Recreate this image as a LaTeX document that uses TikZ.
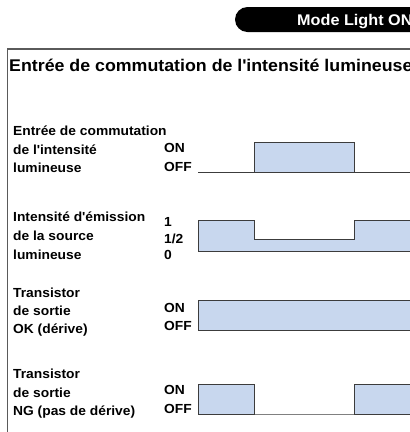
\documentclass[tikz,border=0pt]{standalone}
\usepackage{fontspec}
\setmainfont{Liberation Sans}[FakeStretch=1.05]
\definecolor{pulsefill}{HTML}{C8D7EE}
\definecolor{pulseline}{HTML}{3C3C3C}
\definecolor{framegray}{HTML}{5A5A5A}
\tikzset{
  lab/.style={anchor=base west,inner sep=0pt,font=\fontsize{13.2}{15}\selectfont\bfseries},
  pulse/.style={fill=pulsefill,draw=pulseline,line width=0.9pt},
  baseline/.style={draw=pulseline,line width=0.9pt}
}
\begin{document}
\begin{tikzpicture}[x=1bp,y=-1bp]
\useasboundingbox (0,0) rectangle (410,432);
\clip (0,0) rectangle (410,432);

\fill[black,rounded corners=12.5bp] (235,7) rectangle (440,32);
\node[anchor=base west,inner sep=0pt,text=white,font=\fontsize{15.5}{17}\selectfont\bfseries] (mode) at (297,25) {Mode Light ON};

\draw[framegray,line width=2pt] (7.5,440) -- (7.5,49) -- (440,49);
\node[anchor=base west,inner sep=0pt,font=\fontsize{17}{19}\selectfont\bfseries] (title) at (9,71) {Entrée de commutation de l\textquotesingle intensité lumineuse};

% entree
\node[lab] (in1) at (13,135.5) {Entrée de commutation};
\node[lab] (in2) at (13,154) {de l\textquotesingle intensité};
\node[lab] (in3) at (13,172.5) {lumineuse};
\node[lab] (inon) at (164,152) {ON};
\node[lab] (inoff) at (164,171) {OFF};
\filldraw[pulse] (254,172.5) rectangle (354,142);
\draw[baseline] (198,172.5) -- (415,172.5);

% intensite
\node[lab] (em1) at (13,221.5) {Intensité d\textquotesingle émission};
\node[lab] (em2) at (13,240.5) {de la source};
\node[lab] (em3) at (13,259) {lumineuse};
\node[lab] (emhi) at (164,226) {1};
\node[lab] (emmid) at (164,243) {1/2};
\node[lab] (emlo) at (164,259.5) {0};
\filldraw[pulse] (198,251) -- (198,220.7) -- (254,220.7) -- (254,239) -- (354,239) -- (354,220.7) -- (415,220.7) -- (415,251) -- cycle;

% sortie OK
\node[lab] (ok1) at (13,297) {Transistor};
\node[lab] (ok2) at (13,315) {de sortie};
\node[lab] (ok3) at (13,333.5) {OK (dérive)};
\node[lab] (okon) at (164,312) {ON};
\node[lab] (okoff) at (164,330) {OFF};
\filldraw[pulse] (198,330) rectangle (415,300.5);

% sortie NG
\node[lab] (ng1) at (13,378) {Transistor};
\node[lab] (ng2) at (13,397) {de sortie};
\node[lab] (ng3) at (13,415) {NG (pas de dérive)};
\node[lab] (ngon) at (164,394.5) {ON};
\node[lab] (ngoff) at (164,413) {OFF};
\draw[draw=gray,line width=0.9pt] (254,414) -- (354,414);
\filldraw[pulse] (198,414) rectangle (254,384);
\filldraw[pulse] (354,414) rectangle (415,384);
\end{tikzpicture}
\end{document}
